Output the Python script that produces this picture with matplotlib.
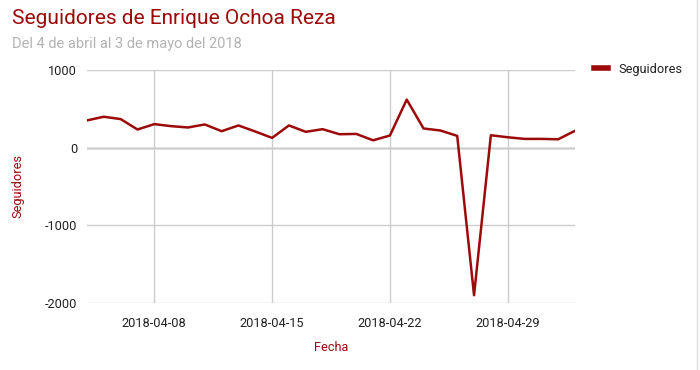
import matplotlib.pyplot as plt
import matplotlib.dates as mdates
import numpy as np
import pandas as pd

# daily follower change, 4 April - 3 May 2018
fechas = pd.date_range("2018-04-04", "2018-05-03", freq="D")
seguidores = [351, 398, 368, 234, 303, 277, 260, 299, 212, 286,
              208, 126, 286, 204, 238, 173, 177, 95, 156, 619,
              247, 221, 152, -1900, 160, 134, 113, 113, 108, 217]
ticks_x = ["2018-04-08", "2018-04-15", "2018-04-22", "2018-04-29"]
ticks_y = [-2000, -1000, 0, 1000]

rojo = "#9c0a0a"
plt.rcParams["font.family"] = ["Roboto", "DejaVu Sans"]
plt.rcParams["axes.unicode_minus"] = False

fig = plt.figure(figsize=(7, 3.7), dpi=100)
ax = fig.add_axes([87 / 700, 1 - 303 / 370, 488 / 700, 233 / 370])

ax.plot(fechas, seguidores, color=rojo, lw=1.8, label="Seguidores")
ax.set_xlim(fechas[0], fechas[-1])
ax.set_ylim(-2000, 1000)

ax.set_yticks(ticks_y)
ax.set_xticks(pd.to_datetime(ticks_x))
ax.xaxis.set_major_formatter(mdates.DateFormatter("%Y-%m-%d"))
ax.grid(True, color="#cccccc", lw=1)
ax.axhline(0, color="#888888", lw=1, zorder=1)
ax.tick_params(length=0, labelsize=9.2, colors="#222222")
ax.tick_params(axis="y", pad=7)
ax.tick_params(axis="x", pad=10)
for s in ax.spines.values():
    s.set_visible(False)

ax.set_xlabel("Fecha", color=rojo, fontsize=9.2)
ax.set_ylabel("Seguidores", color=rojo, fontsize=9.2)
ax.xaxis.set_label_coords(0.5, -0.19)
ax.yaxis.set_label_coords(-0.141, 0.5)
ax.xaxis.label.set_va("center")
ax.yaxis.label.set_va("center")

fig.text(12 / 700, 1 - 18 / 370, "Seguidores de Enrique Ochoa Reza", color=rojo,
         fontsize=15, va="center")
fig.text(12 / 700, 1 - 44 / 370, "Del 4 de abril al 3 de mayo del 2018",
         color="#b3b3b3", fontsize=10.5, va="center")

leg = ax.legend(loc="upper left", bbox_to_anchor=(1.015, 1.08), frameon=False,
                handlelength=1.1, fontsize=9.2, handletextpad=0.8)
leg.get_lines()[0].set_linewidth(4)
for t in leg.get_texts():
    t.set_color("#222222")

fig.add_artist(plt.Line2D([697 / 700, 697 / 700], [0, 1], color="#dddddd", lw=1,
                          transform=fig.transFigure))

fig.savefig("out.png", dpi=100)
